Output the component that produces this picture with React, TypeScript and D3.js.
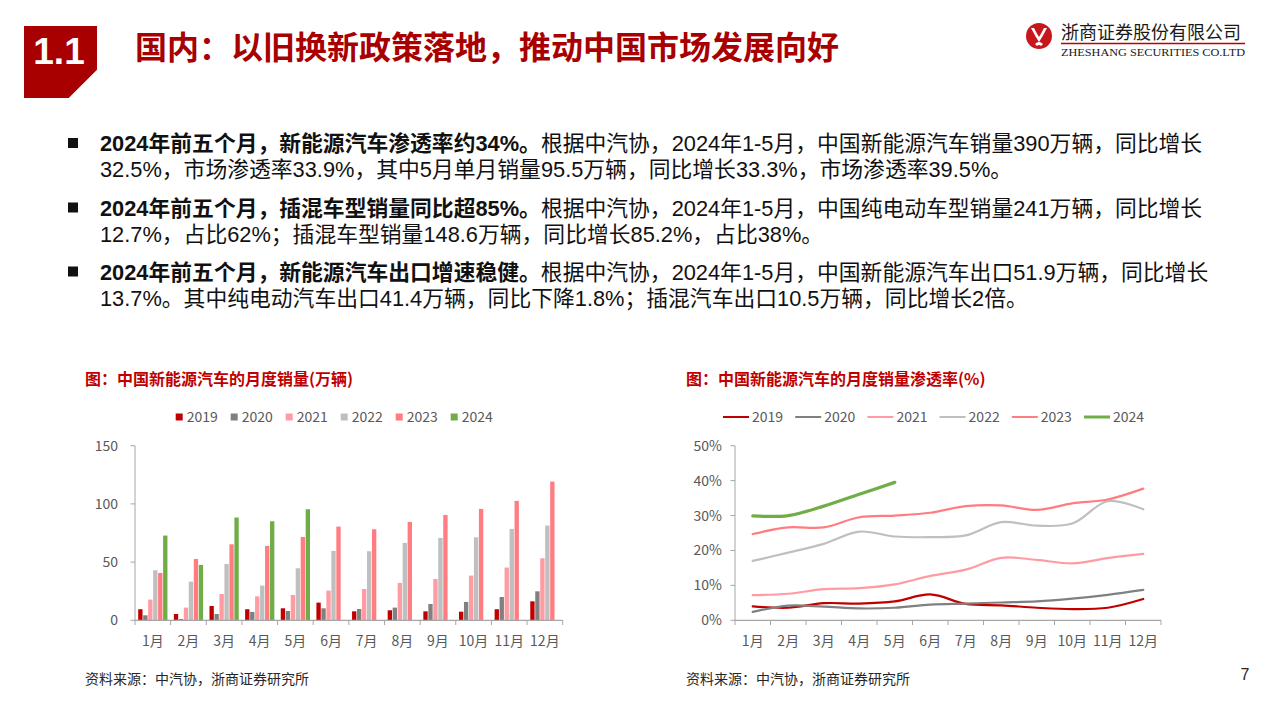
import React from "react";
import * as d3 from "d3";

const months = ["1月", "2月", "3月", "4月", "5月", "6月", "7月", "8月", "9月", "10月", "11月", "12月"];
const years = ["2019", "2020", "2021", "2022", "2023", "2024"];
const yearColors = ["#C00000", "#808080", "#FF9BA3", "#BFBFBF", "#FF7C80", "#70AD47"];

// monthly sales (万辆)
const sales2019 = [9.5, 5.4, 12.3, 9.5, 10.3, 15.2, 7.7, 8.6, 7.7, 7.4, 9.5, 16.3];
const sales2020 = [4.3, 1.1, 5.4, 7.2, 8.0, 10.3, 9.7, 10.9, 14.0, 15.8, 20.0, 24.9];
const sales2021 = [17.8, 10.9, 22.6, 20.6, 21.8, 25.5, 26.9, 32.1, 35.5, 38.4, 45.3, 53.3];
const sales2022 = [43.0, 33.2, 48.4, 29.8, 44.7, 59.6, 59.3, 66.5, 70.8, 71.3, 78.5, 81.4];
const sales2023 = [40.7, 52.7, 65.3, 63.9, 71.6, 80.5, 78.2, 84.5, 90.5, 95.7, 102.6, 119.2];
const sales2024 = [72.8, 47.6, 88.3, 85.1, 95.4];
const salesSeries = [sales2019, sales2020, sales2021, sales2022, sales2023, sales2024];
const salesTicks = [0, 50, 100, 150];

// monthly penetration (%)
const pen2019 = [4.0, 3.6, 4.9, 4.8, 5.4, 7.4, 4.7, 4.3, 3.6, 3.2, 3.6, 6.1];
const pen2020 = [2.4, 4.2, 3.9, 3.4, 3.6, 4.5, 4.8, 5.1, 5.4, 6.2, 7.3, 8.7];
const pen2021 = [7.2, 7.6, 8.9, 9.2, 10.3, 12.7, 14.5, 17.9, 17.3, 16.3, 17.8, 19.0];
const pen2022 = [17.0, 19.4, 21.9, 25.4, 24.0, 23.8, 24.3, 28.1, 27.1, 27.7, 34.1, 31.8];
const pen2023 = [24.7, 26.6, 26.6, 29.5, 30.0, 30.8, 32.7, 32.9, 31.6, 33.5, 34.6, 37.7];
const pen2024 = [29.9, 30.0, 32.7, 36.1, 39.5];
const penSeries = [pen2019, pen2020, pen2021, pen2022, pen2023, pen2024];
const penTicks = [0, 10, 20, 30, 40, 50];

const bulletLines: [string, string][][] = [
  [
    ["2024年前五个月，新能源汽车渗透率约34%。", "根据中汽协，2024年1-5月，中国新能源汽车销量390万辆，同比增长"],
    ["", "32.5%，市场渗透率33.9%，其中5月单月销量95.5万辆，同比增长33.3%，市场渗透率39.5%。"],
  ],
  [
    ["2024年前五个月，插混车型销量同比超85%。", "根据中汽协，2024年1-5月，中国纯电动车型销量241万辆，同比增长"],
    ["", "12.7%，占比62%；插混车型销量148.6万辆，同比增长85.2%，占比38%。"],
  ],
  [
    ["2024年前五个月，新能源汽车出口增速稳健。", "根据中汽协，2024年1-5月，中国新能源汽车出口51.9万辆，同比增长"],
    ["", "13.7%。其中纯电动汽车出口41.4万辆，同比下降1.8%；插混汽车出口10.5万辆，同比增长2倍。"],
  ],
];

const CJK = "'Noto Sans CJK SC', sans-serif";
const BODY = "'Liberation Sans', 'Noto Sans CJK SC', sans-serif";
const AXIS = "#A6A6A6";
const LABEL = "#595959";

function BarChart() {
  const x0 = d3.scaleBand<string>().domain(months).range([135, 562.7]);
  const bw = x0.bandwidth();
  const x1 = d3.scaleBand<string>().domain(years).range([3.2, bw - 3.2]).paddingInner(0.13);
  const y = d3.scaleLinear().domain([0, 150]).range([620.3, 445.7]);
  return (
    <g>
      <text x={85} y={385} fontFamily={CJK} fontWeight="bold" fontSize={16} fill="#C00000">图：中国新能源汽车的月度销量(万辆)</text>
      {years.map((yr, i) => (
        <g key={yr} transform={`translate(${175.7 + i * 55},417)`}>
          <rect x={0} y={-3.5} width={7} height={7} fill={yearColors[i]} />
          <text x={11} y={5} fontFamily={CJK} fontSize={14} fill={LABEL}>{yr}</text>
        </g>
      ))}
      {salesSeries.map((ser, si) =>
        ser.map((v, mi) => (
          <rect
            key={`${si}-${mi}`}
            x={(x0(months[mi]) as number) + (x1(years[si]) as number)}
            y={y(v)}
            width={x1.bandwidth()}
            height={y(0) - y(v)}
            fill={yearColors[si]}
          />
        ))
      )}
      <line x1={135} x2={135} y1={445.7} y2={620.3} stroke={AXIS} strokeWidth={1} />
      <line x1={135} x2={562.7} y1={620.3} y2={620.3} stroke={AXIS} strokeWidth={1.2} />
      {salesTicks.map((t) => (
        <g key={t}>
          <line x1={130.5} x2={135} y1={y(t)} y2={y(t)} stroke={AXIS} />
          <text x={118} y={y(t) + 5} textAnchor="end" fontFamily={CJK} fontSize={14} fill={LABEL}>{t}</text>
        </g>
      ))}
      {months.map((m) => (
        <g key={m}>
          <line x1={x0(m) as number} x2={x0(m) as number} y1={620.3} y2={625} stroke={AXIS} />
          <text x={(x0(m) as number) + bw / 2} y={646} textAnchor="middle" fontFamily={CJK} fontSize={14} fill={LABEL}>{m}</text>
        </g>
      ))}
      <line x1={562.7} x2={562.7} y1={620.3} y2={625} stroke={AXIS} />
      <text x={85} y={684} fontFamily={CJK} fontSize={14} fill="#262626">资料来源：中汽协，浙商证券研究所</text>
    </g>
  );
}

function LineChart() {
  const x = d3.scaleBand<string>().domain(months).range([735, 1161]);
  const bw = x.bandwidth();
  const y = d3.scaleLinear().domain([0, 50]).range([620.3, 445.7]);
  const line = d3
    .line<number>()
    .x((_, i) => (x(months[i]) as number) + bw / 2)
    .y((d) => y(d))
    .curve(d3.curveCatmullRom.alpha(0.5));
  return (
    <g>
      <text x={686} y={385} fontFamily={CJK} fontWeight="bold" fontSize={16} fill="#C00000">图：中国新能源汽车的月度销量渗透率(%)</text>
      {years.map((yr, i) => (
        <g key={yr} transform={`translate(${723 + i * 72.2},417)`}>
          <line x1={0} x2={26} y1={0} y2={0} stroke={yearColors[i]} strokeWidth={i === 5 ? 3 : 2} />
          <text x={29} y={5} fontFamily={CJK} fontSize={14} fill={LABEL}>{yr}</text>
        </g>
      ))}
      <line x1={735} x2={735} y1={445.7} y2={620.3} stroke={AXIS} strokeWidth={1} />
      <line x1={735} x2={1161} y1={620.3} y2={620.3} stroke={AXIS} strokeWidth={1.2} />
      {penTicks.map((t) => (
        <g key={t}>
          <line x1={730.5} x2={735} y1={y(t)} y2={y(t)} stroke={AXIS} />
          <text x={722} y={y(t) + 5} textAnchor="end" fontFamily={CJK} fontSize={14} fill={LABEL}>{`${t}%`}</text>
        </g>
      ))}
      {months.map((m) => (
        <g key={m}>
          <line x1={x(m) as number} x2={x(m) as number} y1={620.3} y2={625} stroke={AXIS} />
          <text x={(x(m) as number) + bw / 2} y={646} textAnchor="middle" fontFamily={CJK} fontSize={14} fill={LABEL}>{m}</text>
        </g>
      ))}
      <line x1={1161} x2={1161} y1={620.3} y2={625} stroke={AXIS} />
      {penSeries.map((ser, si) => (
        <path key={si} d={line(ser) || ""} fill="none" stroke={yearColors[si]} strokeWidth={si === 5 ? 3.2 : 2.2} strokeLinecap="round" />
      ))}
      <text x={686} y={684} fontFamily={CJK} fontSize={14} fill="#262626">资料来源：中汽协，浙商证券研究所</text>
    </g>
  );
}

function Header() {
  return (
    <g>
      <path d="M24,26 H97 V69.7 L68.7,98 H24 Z" fill="#A80000" />
      <text x={59} y={63.5} textAnchor="middle" fontFamily="'Liberation Sans', Arial, sans-serif" fontWeight="bold" fontSize={37} fill="#fff">1.1</text>
      <text x={135} y={59} fontFamily={CJK} fontWeight="bold" fontSize={32} fill="#A80000">国内：以旧换新政策落地，推动中国市场发展向好</text>
      <circle cx={1039} cy={36} r={13} fill="#C8161D" />
      <path d="M1031,28 Q1035,36 1039,42 Q1043,36 1047,28 L1044,28 Q1041,34 1039,37 Q1037,34 1034,28 Z" fill="#fff" />
      <path d="M1035,44 Q1039,40 1043,44 L1041,46 Q1039,44 1037,46 Z" fill="#fff" />
      <text x={1061} y={39} fontFamily={CJK} fontSize={18} fill="#1a1a1a">浙商证券股份有限公司</text>
      <line x1={1061} x2={1245} y1={43.5} y2={43.5} stroke="#C00000" strokeWidth={1.5} />
      <text x={1061} y={55.5} fontFamily="'Liberation Serif', serif" fontSize={11} fill="#1a1a1a" textLength={184} lengthAdjust="spacingAndGlyphs">ZHESHANG SECURITIES CO.LTD</text>
    </g>
  );
}

function Bullets() {
  const tops = [151, 215.5, 279.5];
  return (
    <g>
      {bulletLines.map((para, pi) => (
        <g key={pi}>
          <rect x={68} y={tops[pi] - 13} width={10} height={10} fill="#111" />
          {para.map((ln, li) => (
            <text key={li} x={100} y={tops[pi] + li * 26} fontFamily={BODY} fontSize={21.8} fill="#111">
              {ln[0] ? <tspan fontWeight="bold">{ln[0]}</tspan> : null}
              <tspan>{ln[1]}</tspan>
            </text>
          ))}
        </g>
      ))}
    </g>
  );
}

export default function App() {
  return (
    <svg width={1280} height={720} style={{ position: "absolute", left: 0, top: 0, background: "#fff" }}>
      <rect width={1280} height={720} fill="#fff" />
      <Header />
      <Bullets />
      <BarChart />
      <LineChart />
      <text x={1245} y={680} textAnchor="middle" fontFamily={BODY} fontSize={16} fill="#262626">7</text>
    </svg>
  );
}
